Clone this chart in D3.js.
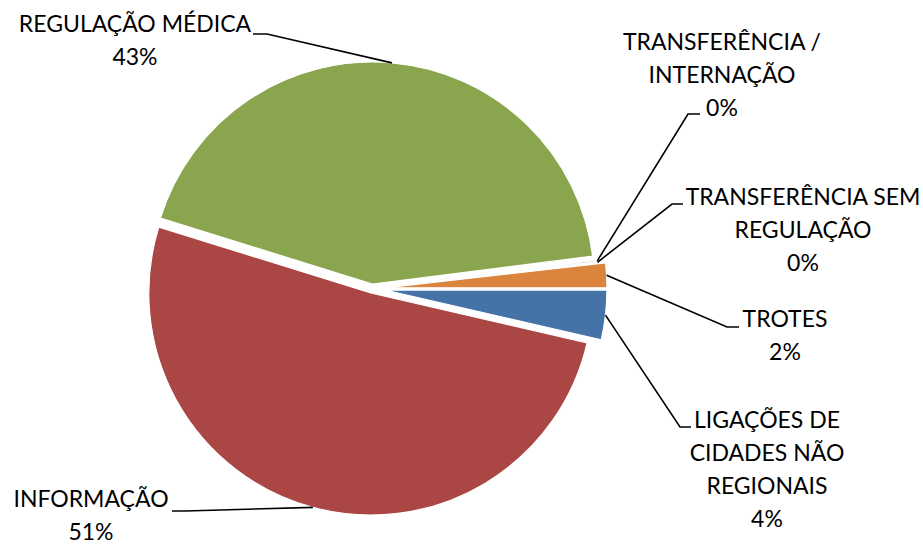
<!DOCTYPE html>
<html>
<head>
<meta charset="utf-8">
<script src="https://cdn.jsdelivr.net/npm/d3@7"></script>
<style>
  body { margin: 0; background: #fff; }
  svg { display: block; }
</style>
</head>
<body>
<div class="chart"></div>
<script>
// data (order as in the spreadsheet, drawn clockwise from 3 o'clock)
var categories = ["LIGAÇÕES DE CIDADES NÃO REGIONAIS", "INFORMAÇÃO", "REGULAÇÃO MÉDICA",
                  "TRANSFERÊNCIA / INTERNAÇÃO", "TRANSFERÊNCIA SEM REGULAÇÃO", "TROTES"];
var values = [36, 512, 432, 1, 1, 18];
var labelLines = [
  ["LIGAÇÕES DE", "CIDADES NÃO", "REGIONAIS"],
  ["INFORMAÇÃO"],
  ["REGULAÇÃO MÉDICA"],
  ["TRANSFERÊNCIA /", "INTERNAÇÃO"],
  ["TRANSFERÊNCIA SEM", "REGULAÇÃO"],
  ["TROTES"]
];
var colors = ["#4572A7", "#AA4643", "#89A54E", "#71588F", "#4198AF", "#DB843D"];

var w = 923;
var h = 548;
var cx = 372, cy = 288.6;
var radius = 222;
var explode = [13, 4.6, 4.6, 5, 5, 13];
var lineH = 33;

// label layout: text centre x, first baseline, elbow of leader, tail of leader
var labelPos = [
  {x: 767, y: 428, elbow: [680, 427], tail: [691, 427]},
  {x: 91,  y: 507, elbow: [185, 511], tail: [172, 511]},
  {x: 135, y: 32,  elbow: [267, 34],  tail: [253, 34]},
  {x: 722, y: 50,  elbow: [688, 114], tail: [700, 114]},
  {x: 803, y: 205, elbow: [672, 204], tail: [683, 204]},
  {x: 785, y: 327, elbow: [727, 327], tail: [739, 327]}
];

var total = d3.sum(values);
var pct = d3.format(".0%");

var pie = d3.pie().sort(null).value(function(d) { return d; })
  .startAngle(Math.PI / 2).endAngle(Math.PI / 2 + 2 * Math.PI);
var arcs = pie(values);
var arc = d3.arc().innerRadius(0).outerRadius(radius);

var svg = d3.select(".chart").append("svg")
  .attr("width", w)
  .attr("height", h);

var g = svg.append("g").attr("transform", "translate(" + cx + "," + cy + ")");

function offset(d, i) {
  var a = (d.startAngle + d.endAngle) / 2;
  return [Math.sin(a) * explode[i], -Math.cos(a) * explode[i]];
}

g.selectAll("path.slice")
  .data(arcs)
  .enter()
    .append("path")
    .attr("class", "slice")
    .attr("d", arc)
    .attr("transform", function(d, i) { var o = offset(d, i); return "translate(" + o[0] + "," + o[1] + ")"; })
    .attr("fill", function(d, i) { return colors[i]; })
    .attr("stroke", "#fff")
    .attr("stroke-width", 1.2);

// leader lines
svg.selectAll("polyline.leader")
  .data(arcs)
  .enter()
    .append("polyline")
    .attr("class", "leader")
    .attr("points", function(d, i) {
      var o = offset(d, i);
      var a = (d.startAngle + d.endAngle) / 2;
      var px = cx + o[0] + Math.sin(a) * radius;
      var py = cy + o[1] - Math.cos(a) * radius;
      var p = labelPos[i];
      return [[px, py], p.elbow, p.tail].map(function(q) { return q.join(","); }).join(" ");
    })
    .attr("fill", "none")
    .attr("stroke", "#000")
    .attr("stroke-width", 1.6);

// labels
var labels = svg.selectAll("text.label")
  .data(arcs)
  .enter()
    .append("text")
    .attr("class", "label")
    .attr("text-anchor", "middle")
    .attr("font-family", "Lato, 'Open Sans', sans-serif")
    .attr("font-size", "23px")
    .attr("fill", "#000");

labels.each(function(d, i) {
  var t = d3.select(this);
  var lines = labelLines[i].concat([pct(d.data / total)]);
  lines.forEach(function(s, k) {
    t.append("tspan")
      .attr("x", labelPos[i].x)
      .attr("y", labelPos[i].y + k * lineH)
      .text(s);
  });
});
</script>
</body>
</html>
